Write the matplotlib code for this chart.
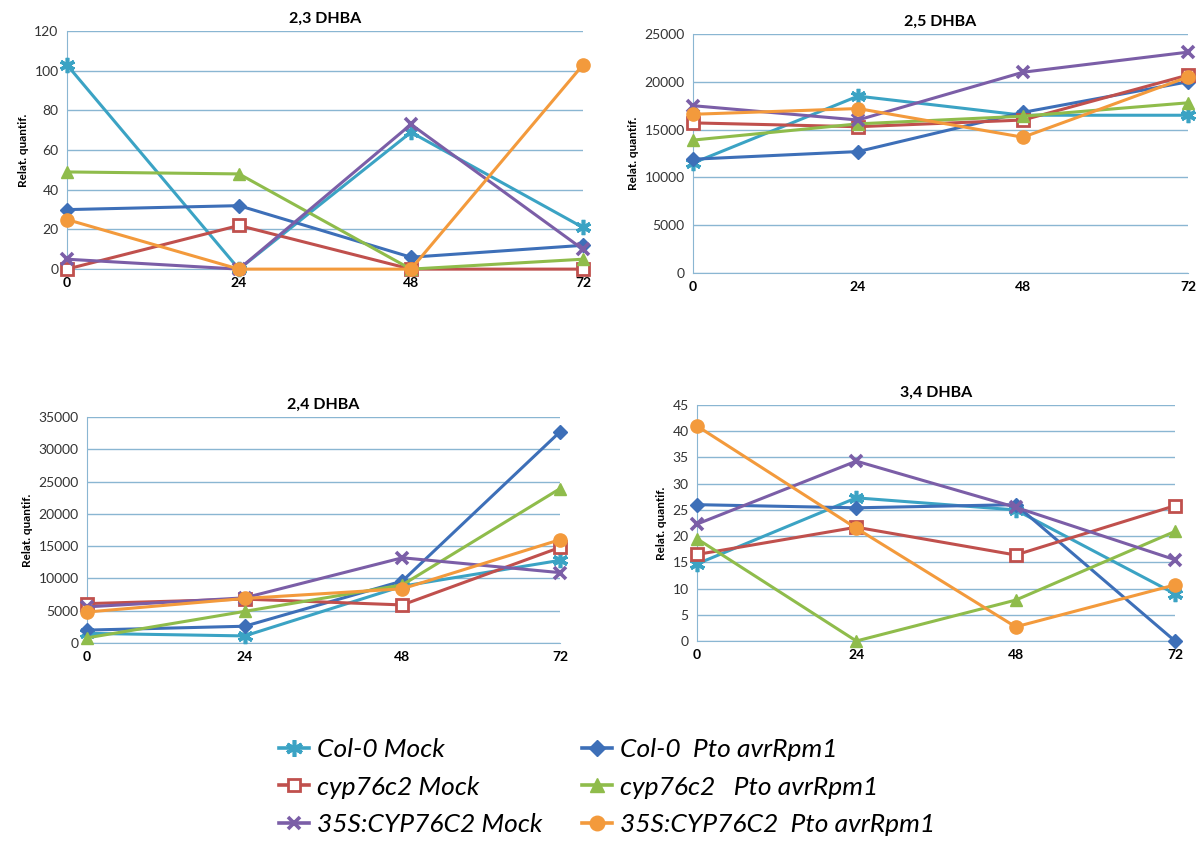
import matplotlib.pyplot as plt
from matplotlib.lines import Line2D

plt.rcParams['font.family'] = ['Lato', 'DejaVu Sans']

hours = [0, 24, 48, 72]

# series order: Col-0 Mock, Col-0 Pto, cyp Mock, cyp Pto, 35S Mock, 35S Pto
dhba23 = {
    'col_mock': [103, 0, 69, 21],
    'col_pto': [30, 32, 6, 12],
    'cyp_mock': [0, 22, 0, 0],
    'cyp_pto': [49, 48, 0, 5],
    's35_mock': [5, 0, 73, 10],
    's35_pto': [25, 0, 0, 103],
}
dhba25 = {
    'col_mock': [11500, 18500, 16500, 16500],
    'col_pto': [11900, 12700, 16800, 20000],
    'cyp_mock': [15700, 15300, 16000, 20700],
    'cyp_pto': [13900, 15600, 16400, 17800],
    's35_mock': [17500, 16000, 21000, 23100],
    's35_pto': [16600, 17200, 14200, 20500],
}
dhba24 = {
    'col_mock': [1500, 1100, 8800, 12800],
    'col_pto': [2000, 2600, 9600, 32700],
    'cyp_mock': [6100, 6800, 5900, 14800],
    'cyp_pto': [800, 4900, 9000, 23900],
    's35_mock': [5600, 7000, 13200, 10900],
    's35_pto': [4800, 6900, 8400, 16000],
}
dhba34 = {
    'col_mock': [14.7, 27.3, 25, 9],
    'col_pto': [26, 25.4, 26, 0],
    'cyp_mock': [16.5, 21.7, 16.4, 25.8],
    'cyp_pto': [19.5, 0, 7.8, 20.9],
    's35_mock': [22.3, 34.3, 25.5, 15.5],
    's35_pto': [41, 21.5, 2.7, 10.7],
}

labels = {
    'col_mock': 'Col-0 Mock',
    'cyp_mock': 'cyp76c2 Mock',
    's35_mock': '35S:CYP76C2 Mock',
    'col_pto': 'Col-0  Pto avrRpm1',
    'cyp_pto': 'cyp76c2   Pto avrRpm1',
    's35_pto': '35S:CYP76C2  Pto avrRpm1',
}

styles = {
    'col_mock': dict(color='#3ba3c4', marker=(6, 2, 0), ms=11, mew=2.6, mfc='#3ba3c4'),
    'col_pto': dict(color='#3d6fb8', marker='D', ms=7.5, mew=1, mfc='#3d6fb8'),
    'cyp_mock': dict(color='#c0504d', marker='s', ms=8, mew=2, mfc='white'),
    'cyp_pto': dict(color='#8fbc4b', marker='^', ms=9, mew=1, mfc='#8fbc4b'),
    's35_mock': dict(color='#7b5ea7', marker='x', ms=8.5, mew=2.6, mfc='#7b5ea7'),
    's35_pto': dict(color='#f39a3c', marker='o', ms=9.5, mew=1, mfc='#f39a3c'),
}
draw_order = ['col_mock', 'col_pto', 'cyp_mock', 'cyp_pto', 's35_mock', 's35_pto']

panels = [
    ('2,3 DHBA', dhba23, [0.0556, 0.680, 0.4286, 0.283], 120, 20),
    ('2,5 DHBA', dhba25, [0.5756, 0.6754, 0.4111, 0.2842], 25000, 5000),
    ('2,4 DHBA', dhba24, [0.0723, 0.2354, 0.3928, 0.2688], 35000, 5000),
    ('3,4 DHBA', dhba34, [0.5789, 0.2378, 0.397, 0.2806], 45, 5),
]

GRID = '#8ab6d2'

fig = plt.figure(figsize=(12.04, 8.41), dpi=100)

for title, data, rect, ymax, step in panels:
    ax = fig.add_axes(rect)
    for key in draw_order:
        st = styles[key]
        ax.plot(hours, data[key], color=st['color'], lw=2.2, marker=st['marker'],
                ms=st['ms'], mew=st['mew'], mfc=st['mfc'], mec=st['color'],
                clip_on=False, zorder=3)
    ax.set_xlim(0, 72)
    ax.set_ylim(0, ymax)
    ax.set_xticks(hours)
    ax.set_xticklabels([str(h) for h in hours], fontweight='bold', fontsize=10)
    ax.set_yticks(range(0, ymax + 1, step))
    ax.tick_params(axis='y', labelsize=10, length=0, pad=6, labelcolor='#333333')
    ax.tick_params(axis='x', length=0, pad=6)
    ax.yaxis.grid(True, color=GRID, lw=1)
    ax.set_axisbelow(True)
    for s in ['top', 'right']:
        ax.spines[s].set_visible(False)
    ax.spines['left'].set_color(GRID)
    ax.spines['bottom'].set_color(GRID)
    ax.set_title(title, fontweight='bold', fontsize=11.5, pad=6)
    ax.set_ylabel('Relat. quantif.', fontweight='bold', fontsize=8.5)

legend_keys = ['col_mock', 'cyp_mock', 's35_mock', 'col_pto', 'cyp_pto', 's35_pto']
handles = []
for key in legend_keys:
    st = styles[key]
    handles.append(Line2D([], [], color=st['color'], lw=2.6, marker=st['marker'],
                          ms=st['ms'] * 1.1, mew=st['mew'], mfc=st['mfc'], mec=st['color']))
fig.legend(handles, [labels[k] for k in legend_keys], ncol=2, loc='center',
           bbox_to_anchor=(0.504, 0.064), frameon=False,
           prop=dict(family='Lato', style='italic', size=19),
           handlelength=1.15, handletextpad=0.3, columnspacing=1.5, labelspacing=0.55)

fig.savefig('out.png', dpi=100)
